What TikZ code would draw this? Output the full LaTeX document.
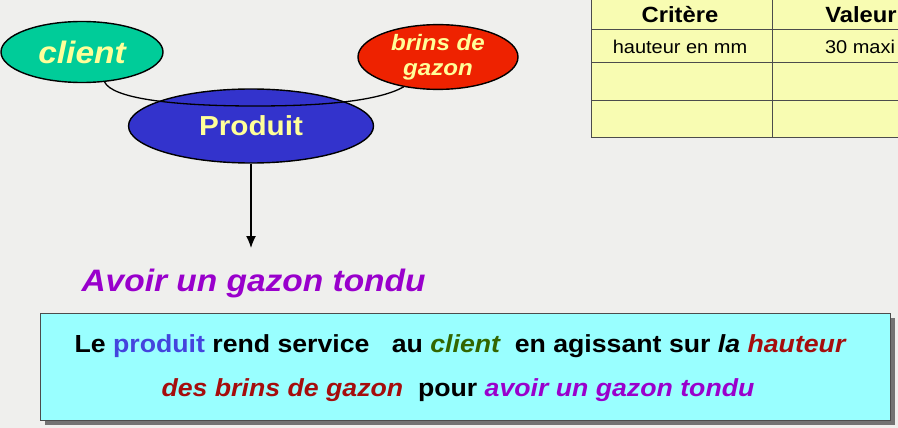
\documentclass[tikz,border=0pt]{standalone}
\usepackage{fontspec}
\setmainfont[FakeStretch=1.08]{Liberation Sans}
\usetikzlibrary{shapes.geometric,arrows.meta,shadows}
\definecolor{fond}{HTML}{EFEFED}
\definecolor{vertclient}{HTML}{00CC99}
\definecolor{rougebrins}{HTML}{EE2200}
\definecolor{bleuproduit}{HTML}{3333CC}
\definecolor{jauneclair}{HTML}{FFFF99}
\definecolor{violet}{HTML}{9900CC}
\definecolor{cyanclair}{HTML}{99FFFF}
\definecolor{jaunetab}{HTML}{F8FCB2}
\definecolor{bleutexte}{HTML}{4444DD}
\definecolor{verttexte}{HTML}{336600}
\definecolor{rougetexte}{HTML}{A50D0D}
\tikzset{
  bulle/.style={ellipse, draw=black, line width=1.4pt, inner sep=0pt,
    text=jauneclair, font=\bfseries\itshape},
  trait/.style={line width=1.3pt},
  cadre/.style={draw=black!70, line width=1pt, fill=cyanclair,
    drop shadow={shadow xshift=5pt, shadow yshift=-5pt, fill=black!55, opacity=1}},
  ligne/.style={font=\fontsize{24.7}{28}\selectfont\bfseries},
  case/.style={font=\fontsize{18.5}{22}\selectfont},
  entete/.style={font=\fontsize{22}{24}\selectfont\bfseries},
}
\begin{document}
\begin{tikzpicture}[x=1pt,y=-1pt]
  \fill[fond] (0,0) rectangle (898,428);
  \useasboundingbox (0,0) rectangle (898,428);

  % tableau des criteres
  \begin{scope}
    \clip (0,0) rectangle (898,428);
    \fill[jaunetab] (591,-5) rectangle (910,137);
    \draw[black!70, line width=1pt] (591,-5) -- (591,137) -- (910,137);
    \draw[black!70, line width=1pt] (772,-5) -- (772,137);
    \foreach \yy in {30,63,101}
      \draw[black!70, line width=1pt] (591,\yy) -- (910,\yy);
  \end{scope}
  \node[entete] (critere) at (680,15) {Critère};
  \node[entete] (valeur) at (861,15) {Valeur};
  \node[case] (hauteur) at (680,47) {hauteur en mm};
  \node[case] (maxi) at (860,47) {30 maxi};

  % bulles
  \node[bulle, fill=bleuproduit, minimum width=245pt, minimum height=74pt,
    font=\fontsize{27.5}{30}\selectfont\bfseries] (produit) at (251,126) {Produit};
  \node[bulle, fill=vertclient, minimum width=162pt, minimum height=61pt,
    font=\fontsize{31}{32}\selectfont\bfseries\itshape] (client) at (82,52) {client};
  \node[bulle, fill=rougebrins, minimum width=160pt, minimum height=60pt,
    align=center, font=\fontsize{22.3}{25}\selectfont\bfseries\itshape] (brins) at (438,57) {brins de\\gazon};

  \draw[trait] (client.-53) .. controls (112,98) and (170,106) .. (255,106)
    .. controls (330,106) and (380,100) .. (brins.-139);

  \coordinate (fin) at (251,248);
  \draw[trait, -{Latex[length=12pt,width=10pt]}] (produit.south) -- (fin);

  \node[anchor=west, text=violet, font=\fontsize{31}{34}\selectfont\bfseries\itshape]
    (fonction) at (78,283) {Avoir un gazon tondu};

  % enonce
  \node[cadre, minimum width=850pt, minimum height=107pt] (enonce) at (465,366.5) {};
  \node[ligne] (ligneA) at (460,346) {Le \textcolor{bleutexte}{produit} rend service\ \ \ au
    \textcolor{verttexte}{\itshape client}\ \ en agissant sur {\itshape la}
    \textcolor{rougetexte}{\itshape hauteur}};
  \node[ligne] (ligneB) at (458,390) {\textcolor{rougetexte}{\itshape des brins de gazon}\ \ pour
    \textcolor{violet}{\itshape avoir un gazon tondu}};
\end{tikzpicture}
\end{document}
